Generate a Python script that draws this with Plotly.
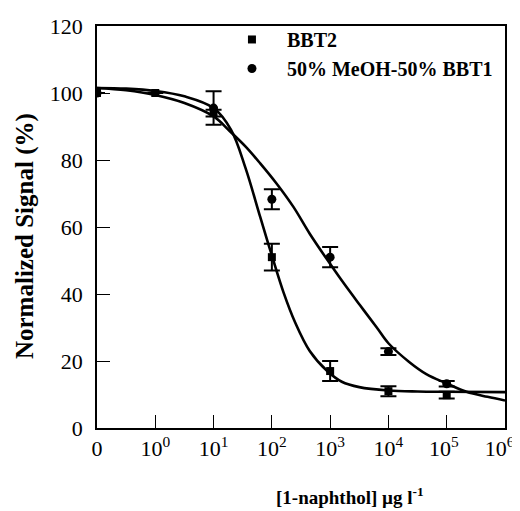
import plotly.graph_objects as go

# ---- data ----
# concentration 0 is drawn at the 10^-1 position of the log axis
ZERO_POS = 0.1

bbt2_conc = [0, 1, 10, 100, 1000, 10000, 100000]
bbt2_signal = [100, 100, 94, 51, 17, 11, 9.8]
bbt2_err = [0, 0, 1, 4, 3, 1.5, 1]

meoh_conc = [0, 10, 100, 1000, 10000, 100000]
meoh_signal = [100, 95.5, 68.3, 51, 22.8, 13.2]
meoh_err = [0, 5, 3, 3, 1, 0.8]

# fitted curves (log10 of concentration, signal)
bbt2_fit_logx = [-1, -0.5, 0, 0.5, 1.0, 1.3, 1.55, 1.8, 2.0, 2.2, 2.4, 2.65, 2.95, 3.2, 3.5, 4.0, 4.5, 5.0, 6.0]
bbt2_fit_y = [101.5, 101.3, 100.6, 99.0, 95.5, 89.0, 77.5, 63.0, 51.5, 40.5, 31.5, 23.0, 17.0, 13.8, 12.2, 11.2, 10.9, 10.8, 10.7]

meoh_fit_logx = [-1, -0.5, 0, 0.5, 1.0, 1.28, 1.55, 1.8, 2.08, 2.37, 2.65, 2.94, 3.2, 3.51, 3.8, 4.0, 4.35, 4.65, 5.0, 5.34, 5.7, 6.0]
meoh_fit_y = [101.5, 100.8, 99.4, 97.0, 93.0, 88.6, 84.0, 79.0, 73.0, 66.0, 58.0, 50.5, 44.0, 36.7, 30.0, 25.3, 19.8, 16.1, 13.3, 10.8, 9.3, 8.2]

x_tickvals = [0.1, 1, 10, 100, 1000, 10000, 100000, 1000000]
x_ticktext = ["0", "10<sup>0</sup>", "10<sup>1</sup>", "10<sup>2</sup>", "10<sup>3</sup>",
              "10<sup>4</sup>", "10<sup>5</sup>&nbsp;", "10<sup>6</sup>&nbsp;&nbsp;"]
y_tickvals = [0, 20, 40, 60, 80, 100, 120]

x_title = "[1-naphthol] µg l<sup>-1</sup>"
y_title = "Normalized Signal (%)"


def pos(c):
    return [ZERO_POS if v == 0 else v for v in c]


FONT = "Liberation Serif"
fig = go.Figure()

fig.add_trace(go.Scatter(
    x=[10 ** v for v in bbt2_fit_logx], y=bbt2_fit_y, mode="lines",
    line=dict(color="black", width=2.6, shape="spline"), showlegend=False, hoverinfo="skip"))
fig.add_trace(go.Scatter(
    x=[10 ** v for v in meoh_fit_logx], y=meoh_fit_y, mode="lines",
    line=dict(color="black", width=2.6, shape="spline"), showlegend=False, hoverinfo="skip"))

fig.add_trace(go.Scatter(
    x=pos(bbt2_conc), y=bbt2_signal, mode="markers", name="BBT2",
    marker=dict(symbol="square", size=8, color="black"),
    error_y=dict(type="data", array=bbt2_err, visible=True, color="black", thickness=2, width=8)))
fig.add_trace(go.Scatter(
    x=pos(meoh_conc), y=meoh_signal, mode="markers", name="50% MeOH-50% BBT1",
    marker=dict(symbol="circle", size=9, color="black"),
    error_y=dict(type="data", array=meoh_err, visible=True, color="black", thickness=2, width=8)))

fig.update_layout(
    width=520, height=511,
    margin=dict(l=89, r=23, t=12, b=91),
    paper_bgcolor="white", plot_bgcolor="white",
    font=dict(family=FONT, color="black", size=22),
    legend=dict(x=0.294, y=1.015, xanchor="left", yanchor="top",
                bgcolor="rgba(0,0,0,0)", itemwidth=60,
                font=dict(family=FONT, size=20, color="black", weight="bold")),
    showlegend=True,
    annotations=[
        dict(text=x_title, xref="paper", yref="paper", x=0.62, y=-0.169,
             xanchor="center", yanchor="middle", showarrow=False,
             font=dict(family=FONT, size=19, color="black", weight="bold")),
        dict(text=y_title, xref="paper", yref="paper", x=-0.176, y=0.478,
             xanchor="center", yanchor="middle", showarrow=False, textangle=-90,
             font=dict(family=FONT, size=25, color="black", weight="bold")),
    ],
)
fig.update_xaxes(
    type="log", range=[-1, 6], automargin=False,
    tickvals=x_tickvals, ticktext=x_ticktext, ticklabeloverflow="allow",
    ticks="inside", ticklen=13, tickwidth=1.2, tickcolor="black",
    showline=True, linecolor="black", linewidth=1.5, mirror=True,
    showgrid=False, zeroline=False, ticklabelstandoff=0,
    tickfont=dict(family=FONT, size=22),
)
fig.update_yaxes(
    range=[0, 120], tickvals=y_tickvals, automargin=False, ticklabeloverflow="allow",
    ticks="inside", ticklen=13, tickwidth=1.2, tickcolor="black",
    showline=True, linecolor="black", linewidth=1.5, mirror=True,
    showgrid=False, zeroline=False, ticklabelstandoff=8,
    tickfont=dict(family=FONT, size=22),
)

fig.write_html("out.html")
